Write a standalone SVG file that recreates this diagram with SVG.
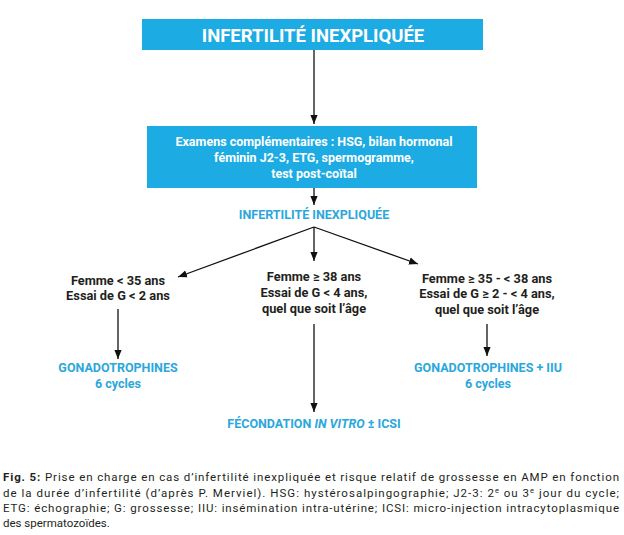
<svg xmlns="http://www.w3.org/2000/svg" width="624" height="535" viewBox="0 0 624 535">
<style>
.box{fill:#1CABE3}
.t{font-family:Roboto,"Liberation Sans",sans-serif;font-weight:bold;text-anchor:middle}
.w{fill:#ffffff}
.k{fill:#231F20;font-size:12.8px}
.c{fill:#2AA7DC;font-size:12.5px}
.ln{stroke:#111;stroke-width:1.3;fill:none;marker-end:url(#ah)}
.cap{font-family:Roboto,"Liberation Sans",sans-serif;font-size:11.5px;fill:#231F20}
</style>
<defs>
<marker id="ah" markerUnits="userSpaceOnUse" markerWidth="9" markerHeight="9" viewBox="0 0 10 10" refX="10" refY="5" orient="auto">
<path d="M0,1 L10,5 L0,9 Z" fill="#111"/>
</marker>
</defs>
<rect width="624" height="535" fill="#ffffff"/>
<g id="n-title">
<rect class="box" x="142" y="19" width="341" height="31"/>
<text class="t w" x="313" y="42" font-size="18.5">INFERTILITÉ INEXPLIQUÉE</text>
</g>
<g id="n-examens">
<rect class="box" x="147" y="126" width="330" height="62"/>
<text class="t w" x="314" y="146" font-size="12.5">Examens complémentaires : HSG, bilan hormonal</text>
<text class="t w" x="314" y="162" font-size="12.5">féminin J2-3, ETG, spermogramme,</text>
<text class="t w" x="314" y="178" font-size="12.5">test post-coïtal</text>
</g>
<g id="n-inexp">
<text class="t c" x="314" y="219">INFERTILITÉ INEXPLIQUÉE</text>
</g>
<g id="n-left">
<text class="t k" x="118" y="285">Femme &lt; 35 ans</text>
<text class="t k" x="118" y="300">Essai de G &lt; 2 ans</text>
</g>
<g id="n-center">
<text class="t k" x="314" y="281">Femme ≥ 38 ans</text>
<text class="t k" x="314" y="297">Essai de G &lt; 4 ans,</text>
<text class="t k" x="314" y="313">quel que soit l’âge</text>
</g>
<g id="n-right">
<text class="t k" x="487" y="283">Femme ≥ 35 - &lt; 38 ans</text>
<text class="t k" x="487" y="298">Essai de G ≥ 2 - &lt; 4 ans,</text>
<text class="t k" x="487" y="314">quel que soit l’âge</text>
</g>
<g id="n-gona">
<text class="t c" x="118" y="372">GONADOTROPHINES</text>
<text class="t c" x="118" y="388">6 cycles</text>
</g>
<g id="n-gona-iiu">
<text class="t c" x="488" y="372">GONADOTROPHINES + IIU</text>
<text class="t c" x="488" y="388">6 cycles</text>
</g>
<g id="n-fiv">
<text class="t c" x="314" y="428">FÉCONDATION <tspan font-style="italic">IN VITRO</tspan> ± ICSI</text>
</g>
<g id="connectors">
<line class="ln" x1="314" y1="50" x2="314" y2="124"/>
<line class="ln" x1="314" y1="188" x2="314" y2="205"/>
<line class="ln" x1="314" y1="227" x2="178" y2="277"/>
<line class="ln" x1="314" y1="227" x2="314" y2="261"/>
<line class="ln" x1="314" y1="227" x2="418" y2="264"/>
<line class="ln" x1="118" y1="309" x2="118" y2="359"/>
<line class="ln" x1="314" y1="324" x2="314" y2="412"/>
<line class="ln" x1="487" y1="324" x2="487" y2="356"/>
</g>
<g id="caption">
<text class="cap" x="3" y="481" textLength="616" lengthAdjust="spacing"><tspan font-weight="bold">Fig. 5:</tspan> Prise en charge en cas d’infertilité inexpliquée et risque relatif de grossesse en AMP en fonction</text>
<text class="cap" x="3" y="497" textLength="616" lengthAdjust="spacing">de la durée d’infertilité (d’après P. Merviel). HSG: hystérosalpingographie; J2-3: 2<tspan font-size="7.5" baseline-shift="super">e</tspan> ou 3<tspan font-size="7.5" baseline-shift="super">e</tspan> jour du cycle;</text>
<text class="cap" x="3" y="512" textLength="616" lengthAdjust="spacing">ETG: échographie; G: grossesse; IIU: insémination intra-utérine; ICSI: micro-injection intracytoplasmique</text>
<text class="cap" x="3" y="527">des spermatozoïdes.</text>
</g>
</svg>
